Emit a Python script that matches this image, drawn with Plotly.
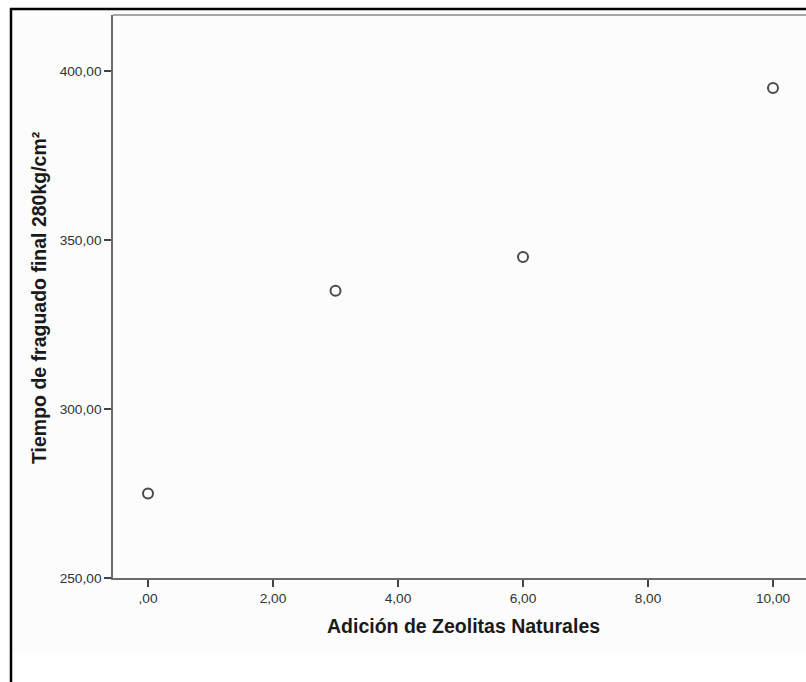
import plotly.graph_objects as go

# Zeolite addition (%) vs. final setting time for 280 kg/cm² concrete
adicion_zeolitas = [0, 3, 6, 10]
tiempo_fraguado = [275, 335, 345, 395]

x_ticks = [0, 2, 4, 6, 8, 10]
x_ticktext = [",00", "2,00", "4,00", "6,00", "8,00", "10,00"]
y_ticks = [250, 300, 350, 400]
y_ticktext = ["250,00", "300,00", "350,00", "400,00"]

W, H = 806, 682
L, R, T, B = 113, 0, 15, 104
pw, ph = W - L - R, H - T - B

def px_x(p):
    return (p - L) / pw

def px_y(p):
    return (H - B - p) / ph

FONT = "Liberation Sans, Arial, sans-serif"

fig = go.Figure(
    go.Scatter(
        x=adicion_zeolitas,
        y=tiempo_fraguado,
        mode="markers",
        marker=dict(symbol="circle-open", size=10, color="#4a4a4a",
                    line=dict(width=2, color="#4a4a4a")),
        hoverinfo="x+y",
    )
)

axis_common = dict(
    showgrid=False, zeroline=False, showline=True, linecolor="#6b6b6b",
    linewidth=1.5, ticks="outside", ticklen=7, tickwidth=1.5,
    tickcolor="#444444", tickfont=dict(family=FONT, size=13.7, color="#333333"),
)

fig.update_layout(
    width=W, height=H,
    margin=dict(l=L, r=R, t=T, b=B),
    paper_bgcolor="white",
    plot_bgcolor="#fcfcfc",
    showlegend=False,
    xaxis=dict(range=[-0.56, 10.528], tickvals=x_ticks, ticktext=x_ticktext,
               **axis_common),
    yaxis=dict(range=[250, 416.6], tickvals=y_ticks, ticktext=y_ticktext,
               **axis_common),
    shapes=[
        # light chart background band
        dict(type="rect", xref="paper", yref="paper", x0=px_x(12), x1=px_x(806),
             y0=px_y(653), y1=px_y(9), fillcolor="#fcfcfc", line=dict(width=0),
             layer="below"),
        # plot frame top edge
        dict(type="line", xref="paper", yref="paper", x0=0, x1=1, y0=1, y1=1,
             line=dict(color="#8a8a8a", width=1.5)),
        # outer chart frame (left and top)
        dict(type="line", xref="paper", yref="paper", x0=px_x(11), x1=px_x(11),
             y0=px_y(682), y1=px_y(8), line=dict(color="black", width=2.5)),
        dict(type="line", xref="paper", yref="paper", x0=px_x(10), x1=px_x(806),
             y0=px_y(9), y1=px_y(9), line=dict(color="black", width=2.5)),
    ],
    annotations=[
        dict(text="<b>Adición de Zeolitas Naturales</b>", xref="paper", yref="paper",
             x=px_x(464), y=px_y(626), showarrow=False,
             font=dict(family=FONT, size=19.5, color="#1a1a1a"),
             xanchor="center", yanchor="middle"),
        dict(text="<b>Tiempo de fraguado final 280kg/cm²</b>", xref="paper",
             yref="paper", x=px_x(39), y=px_y(298), showarrow=False, textangle=-90,
             font=dict(family=FONT, size=19.5, color="#1a1a1a"),
             xanchor="center", yanchor="middle"),
    ],
)

fig.write_html("out.html")
